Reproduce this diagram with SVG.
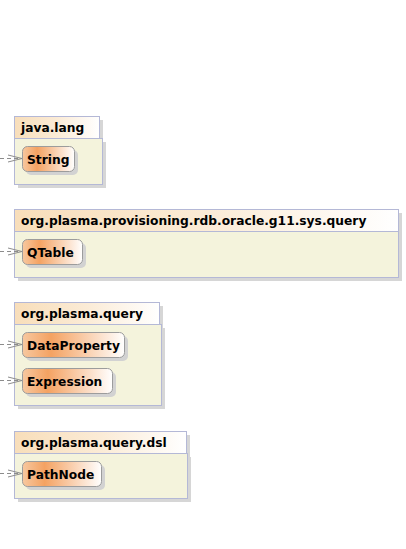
<svg xmlns="http://www.w3.org/2000/svg" width="406" height="549" viewBox="0 0 406 549">
<defs>
<linearGradient id="tabg" x1="0" y1="0" x2="1" y2="0">
<stop offset="0" stop-color="#f8deba"/>
<stop offset="0.5" stop-color="#fbebd6"/>
<stop offset="1" stop-color="#ffffff"/>
</linearGradient>
<linearGradient id="nodeg" x1="0" y1="0" x2="1" y2="0">
<stop offset="0" stop-color="#f7c8a0"/>
<stop offset="0.28" stop-color="#f4a262"/>
<stop offset="1" stop-color="#ffffff"/>
</linearGradient>
<marker id="arr" viewBox="0 0 14 10" refX="14" refY="5" markerWidth="14" markerHeight="10" markerUnits="userSpaceOnUse" orient="auto">
<path d="M0,1.5 L14,5 L0,8.5" fill="none" stroke="#8c8c8c" stroke-width="1"/>
</marker>
</defs>
<style>
.sh{fill:#d6d6d6}
.tab{fill:url(#tabg);stroke:#b4b8d6;stroke-width:1}
.body{fill:#f4f3dc;stroke:#b4b8d6;stroke-width:1}
.node{fill:url(#nodeg);stroke:#9c9c9c;stroke-width:1}
.nsh{fill:#d2d2d2}
.pt{font-family:"DejaVu Sans",sans-serif;font-weight:bold;font-size:12.25px;fill:#000}
.nt{font-family:"DejaVu Sans",sans-serif;font-weight:bold;font-size:12.25px;fill:#000}
.con{fill:none;stroke:#8c8c8c;stroke-width:1;stroke-dasharray:4,3}
</style>
<rect width="406" height="549" fill="#ffffff"/>

<g id="pkg-java-lang">
<rect class="sh" x="18" y="120" width="85" height="22"/>
<rect class="sh" x="18" y="142" width="88" height="46"/>
<rect class="tab" x="14.5" y="116.5" width="85" height="22"/>
<rect class="body" x="14.5" y="138.5" width="88" height="46"/>
<text class="pt" x="21" y="132">java.lang</text>
</g>
<g id="node-String">
<rect class="nsh" x="26" y="150" width="52" height="25" rx="5"/>
<rect class="node" x="22.5" y="146.5" width="52" height="25" rx="5"/>
<text class="nt" x="27" y="164">String</text>
</g>

<g id="pkg-rdb-query">
<rect class="sh" x="18" y="213" width="384" height="68"/>
<rect class="tab" x="14.5" y="209.5" width="384" height="22"/>
<rect class="body" x="14.5" y="231.5" width="384" height="46"/>
<text class="pt" x="21" y="225">org.plasma.provisioning.rdb.oracle.g11.sys.query</text>
</g>
<g id="node-QTable">
<rect class="nsh" x="26" y="243" width="60" height="25" rx="5"/>
<rect class="node" x="22.5" y="239.5" width="60" height="25" rx="5"/>
<text class="nt" x="27" y="257">QTable</text>
</g>

<g id="pkg-query">
<rect class="sh" x="18" y="306" width="145" height="23"/>
<rect class="sh" x="18" y="328" width="147" height="81"/>
<rect class="tab" x="14.5" y="302.5" width="145" height="22"/>
<rect class="body" x="14.5" y="324.5" width="147" height="81"/>
<text class="pt" x="21" y="318">org.plasma.query</text>
</g>
<g id="node-DataProperty">
<rect class="nsh" x="26" y="336" width="102" height="25" rx="5"/>
<rect class="node" x="22.5" y="332.5" width="102" height="25" rx="5"/>
<text class="nt" x="27" y="350">DataProperty</text>
</g>
<g id="node-Expression">
<rect class="nsh" x="26" y="372" width="90" height="25" rx="5"/>
<rect class="node" x="22.5" y="368.5" width="90" height="25" rx="5"/>
<text class="nt" x="27" y="386">Expression</text>
</g>

<g id="pkg-query-dsl">
<rect class="sh" x="18" y="435" width="172" height="22"/>
<rect class="sh" x="18" y="457" width="173" height="45"/>
<rect class="tab" x="14.5" y="431.5" width="172" height="22"/>
<rect class="body" x="14.5" y="453.5" width="173" height="45"/>
<text class="pt" x="21" y="447">org.plasma.query.dsl</text>
</g>
<g id="node-PathNode">
<rect class="nsh" x="26" y="465" width="79" height="25" rx="5"/>
<rect class="node" x="22.5" y="461.5" width="79" height="25" rx="5"/>
<text class="nt" x="27" y="479">PathNode</text>
</g>

<g id="connectors">
<path class="con" d="M0,158.5 H22" marker-end="url(#arr)"/>
<path class="con" d="M0,251.5 H22" marker-end="url(#arr)"/>
<path class="con" d="M0,344.5 H22" marker-end="url(#arr)"/>
<path class="con" d="M0,380.5 H22" marker-end="url(#arr)"/>
<path class="con" d="M0,473.5 H22" marker-end="url(#arr)"/>
</g>
</svg>
